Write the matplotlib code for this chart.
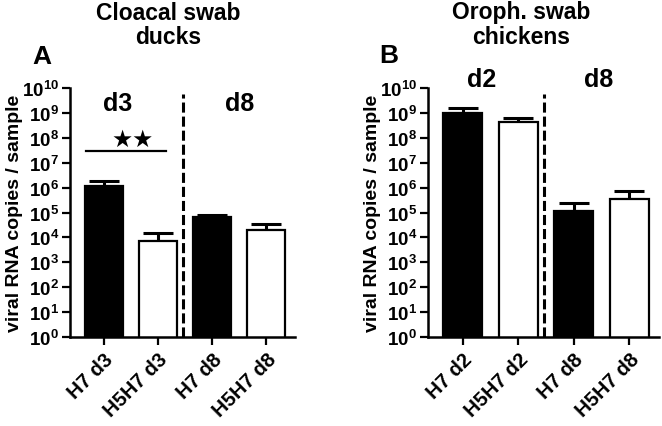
import numpy as np
import matplotlib
matplotlib.use('Agg')
import matplotlib.pyplot as plt

plt.rcParams['font.family'] = ['Liberation Sans', 'DejaVu Sans']
plt.rcParams['font.weight'] = 'bold'
plt.rcParams['mathtext.fontset'] = 'custom'
plt.rcParams['mathtext.rm'] = 'Liberation Sans:bold'
plt.rcParams['mathtext.bf'] = 'Liberation Sans:bold'
plt.rcParams['mathtext.it'] = 'Liberation Sans:bold'

# panel A: cloacal swab, ducks
labels_a = ['H7 d3', 'H5H7 d3', 'H7 d8', 'H5H7 d8']
mean_a = [1.2e6, 7.5e3, 6.3e4, 1.9e4]
upper_a = [1.8e6, 1.5e4, 8.3e4, 3.4e4]

# panel B: oropharyngeal swab, chickens
labels_b = ['H7 d2', 'H5H7 d2', 'H7 d8', 'H5H7 d8']
mean_b = [1.0e9, 4.4e8, 1.1e5, 3.6e5]
upper_b = [1.6e9, 6.3e8, 2.3e5, 7.1e5]

fills = ['black', 'white', 'black', 'white']
decades = list(range(0, 11))


def panel(ax, labels, mean, upper, label_x):
    x = np.arange(len(labels))
    ax.set_yscale('log')
    ax.bar(x, mean, width=0.7, color=fills, edgecolor='black', linewidth=1.6, zorder=2)
    err = np.array(upper) - np.array(mean)
    ax.errorbar(x, mean, yerr=[np.zeros(len(x)), err], fmt='none', ecolor='black',
                elinewidth=2.2, capsize=10.5, capthick=2.2, zorder=1)
    ax.set_ylim(1, 1e10)
    ax.set_xlim(-0.62, 3.53)
    ax.set_yticks([10.0 ** d for d in decades])
    ax.set_yticklabels([r'$10^{%d}$' % d for d in decades], fontsize=13.5)
    ax.minorticks_off()
    ax.set_xticks(x)
    ax.set_xticklabels(labels, rotation=45, ha='right', rotation_mode='anchor', fontsize=14.5)
    ax.tick_params(axis='both', width=1.6, length=6, pad=3)
    ax.tick_params(axis='y', pad=2)
    for s in ['top', 'right']:
        ax.spines[s].set_visible(False)
    for s in ['left', 'bottom']:
        ax.spines[s].set_linewidth(1.8)
    ax.set_ylabel('viral RNA copies / sample', fontsize=14, fontweight='bold')
    ax.yaxis.set_label_coords(label_x, 0.5)
    # separator between days
    ax.plot([1.47, 1.47], [1, 10 ** 9.75], color='black', lw=2.2, ls=(0, (3.3, 1.3)), zorder=3)
    return x


fig = plt.figure(figsize=(6.62, 4.27), dpi=100)
ax_a = fig.add_axes([70 / 662, 1 - 338 / 427, 225 / 662, 249 / 427])
ax_b = fig.add_axes([428 / 662, 1 - 338 / 427, 231 / 662, 249 / 427])

panel(ax_a, labels_a, mean_a, upper_a, -0.21)
panel(ax_b, labels_b, mean_b, upper_b, -0.203)

# significance bar panel A
ax_a.plot([-0.33, 1.15], [3e7, 3e7], color='black', lw=1.6, zorder=3)
ax_a.text(0.53, 10 ** 7.95, '★★', ha='center', va='center', fontsize=17,
          family=['DejaVu Sans'])

ax_a.text(0.25, 10 ** 9.4, 'd3', ha='center', va='center', fontsize=18, fontweight='bold')
ax_a.text(2.5, 10 ** 9.4, 'd8', ha='center', va='center', fontsize=18, fontweight='bold')
ax_b.text(0.35, 10 ** 10.35, 'd2', ha='center', va='center', fontsize=18, fontweight='bold', clip_on=False)
ax_b.text(2.45, 10 ** 10.35, 'd8', ha='center', va='center', fontsize=18, fontweight='bold', clip_on=False)

fig.text(168 / 662, 1 - 13 / 427, 'Cloacal swab', ha='center', va='center', fontsize=16.5, fontweight='bold')
fig.text(168 / 662, 1 - 38 / 427, 'ducks', ha='center', va='center', fontsize=16.5, fontweight='bold')
fig.text(521 / 662, 1 - 13 / 427, 'Oroph. swab', ha='center', va='center', fontsize=16.5, fontweight='bold')
fig.text(521 / 662, 1 - 38 / 427, 'chickens', ha='center', va='center', fontsize=16.5, fontweight='bold')
fig.text(42 / 662, 1 - 57 / 427, 'A', ha='center', va='center', fontsize=19, fontweight='bold')
fig.text(389 / 662, 1 - 56 / 427, 'B', ha='center', va='center', fontsize=19, fontweight='bold')

fig.savefig('out.png', dpi=100)
